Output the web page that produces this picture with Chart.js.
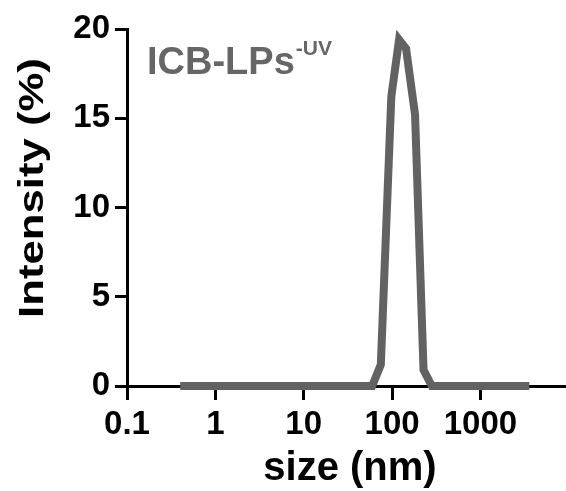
<!DOCTYPE html>
<html>
<head>
<meta charset="utf-8">
<script src="https://cdn.jsdelivr.net/npm/chart.js@4/dist/chart.umd.min.js"></script>
<style>
html, body { margin: 0; padding: 0; background: #fff; }
#wrap { width: 566px; height: 491px; }
</style>
</head>
<body>
<div id="wrap"><canvas id="dlsChart" width="566" height="491"></canvas></div>
<script>

// size distribution (nm) and intensity (%)
const sizes = [
  0.4, 0.5, 0.63, 0.79, 1.0, 1.26, 1.58, 2.0, 2.5, 3.2,
  4.0, 5.0, 6.3, 7.9, 10, 12.6, 15.8, 20, 25, 32,
  40, 50, 59.6, 74.6, 98, 120, 144, 182, 227, 282,
  355, 450, 560, 710, 890, 1120, 1410, 1780, 2240, 2820, 3580
];

const intensity = [
  0, 0, 0, 0, 0, 0, 0, 0, 0, 0,
  0, 0, 0, 0, 0, 0, 0, 0, 0, 0,
  0, 0, 0, 1.2, 16.2, 19.4, 18.9, 15.2, 0.9, 0,
  0, 0, 0, 0, 0, 0, 0, 0, 0, 0, 0
];

const xTicks = [0.1, 1, 10, 100, 1000];
const yTicks = [0, 5, 10, 15, 20];

const seriesName = "ICB-LPs";
const seriesSup = "-UV";

const FONT = '"Liberation Sans", Arial, sans-serif';


// axis titles + label drawn on top
const textPlugin = {
  id: "textPlugin",
  afterDraw(chart) {
    const ctx = chart.ctx;
    ctx.save();

    ctx.fillStyle = "#000";
    ctx.font = "bold 40px " + FONT;
    ctx.textAlign = "center";
    ctx.textBaseline = "alphabetic";
    ctx.fillText("size (nm)", 350, 480);

    // y title is a bit stretched along its length in the original
    ctx.save();
    ctx.translate(43, 188);
    ctx.rotate(-Math.PI / 2);
    ctx.scale(1.15, 0.94);
    ctx.font = "bold 38px " + FONT;
    ctx.fillText("Intensity (%)", 0, 0);
    ctx.restore();

    ctx.fillStyle = "#666666";
    ctx.textAlign = "left";
    ctx.font = "bold 38px " + FONT;
    ctx.fillText(seriesName, 147, 74);
    const w = ctx.measureText(seriesName).width;
    ctx.font = "bold 21px " + FONT;
    ctx.fillText(seriesSup, 147 + w + 1, 55);

    ctx.restore();
  }
};


new Chart(document.getElementById("dlsChart"), {

  type: "line",

  data: {
    datasets: [{
      label: seriesName,
      data: sizes.map((s, i) => ({ x: s, y: intensity[i] })),
      borderColor: "#626262",
      borderWidth: 8,
      pointRadius: 0,
      tension: 0,
      clip: false
    }]
  },

  options: {
    responsive: false,
    animation: false,
    devicePixelRatio: 1,
    layout: { padding: { top: 29, right: 0, left: 0, bottom: 0 } },
    plugins: {
      legend: { display: false },
      tooltip: { enabled: false }
    },
    scales: {
      x: {
        type: "logarithmic",
        min: 0.1,
        max: 9300,
        afterBuildTicks: axis => { axis.ticks = xTicks.map(v => ({ value: v })); },
        afterFit: axis => { axis.height = 105; },
        ticks: {
          autoSkip: false,
          maxRotation: 0,
          padding: 5,
          color: "#000",
          font: { family: FONT, size: 33, weight: "bold" },
          callback: v => String(v)
        },
        grid: { drawOnChartArea: false, tickLength: 14, lineWidth: 3, color: "#000" },
        border: { display: true, color: "#000", width: 3 }
      },
      y: {
        min: 0,
        max: 20,
        afterBuildTicks: axis => { axis.ticks = yTicks.map(v => ({ value: v })); },
        afterFit: axis => { axis.width = 127; },
        ticks: {
          padding: 5,
          color: "#000",
          font: { family: FONT, size: 33, weight: "bold" }
        },
        grid: { drawOnChartArea: false, tickLength: 12, lineWidth: 3, color: "#000" },
        border: { display: true, color: "#000", width: 3 }
      }
    }
  },

  plugins: [textPlugin]

});

</script>
</body>
</html>
